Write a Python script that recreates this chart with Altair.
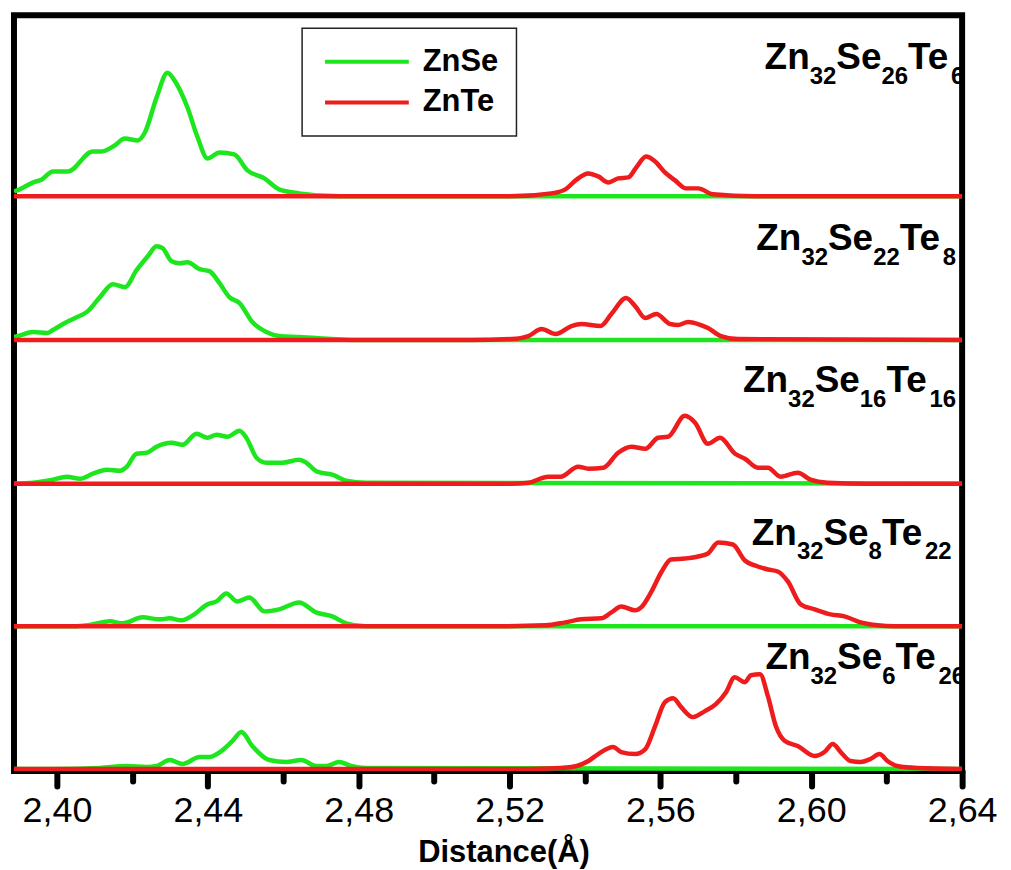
import altair as alt
import pandas as pd

GREEN = "#1ee61e"
RED = "#ee1c1c"

series_names = ["ZnSe", "ZnTe"]
panel_ids = ["p1", "p2", "p3", "p4", "p5"]
# panel labels as (element, subscript) pairs
panel_label_parts = [
    [("Zn", "32"), ("Se", "26"), ("Te", "6")],
    [("Zn", "32"), ("Se", "22"), ("Te", "8")],
    [("Zn", "32"), ("Se", "16"), ("Te", "16")],
    [("Zn", "32"), ("Se", "8"), ("Te", "22")],
    [("Zn", "32"), ("Se", "6"), ("Te", "26")],
]
panel_offsets = [57.4, 43.0, 28.6, 14.3, 0.0]
label_baseline_y = [70.2, 52.0, 37.8, 22.5, 10.0]
label_right_x = [2.6406, 2.6384, 2.6384, 2.6372, 2.6408]
tick_values = [2.40, 2.42, 2.44, 2.46, 2.48, 2.50, 2.52, 2.54, 2.56, 2.58, 2.60, 2.62, 2.64]

# ---- Panel 1: Zn32Se26Te6 ----
p1_znse_x = [2.3886, 2.3894, 2.3937, 2.396, 2.3989, 2.4029, 2.4095, 2.4119, 2.4153, 2.418, 2.4214,
             2.4233, 2.4264, 2.4293, 2.4312, 2.4346, 2.4373, 2.4399, 2.4431, 2.447, 2.4505, 2.455,
             2.4589, 2.4642, 2.475, 2.64]
p1_znse_y = [0.5, 0.6, 1.4, 1.7, 2.5, 2.5, 4.5, 4.5, 5.1, 5.8, 5.6, 6.4, 9.9, 12.4, 11.6, 8.9, 5.9,
             3.8, 4.4, 4.2, 2.6, 1.8, 0.7, 0.3, 0.0, 0.0]
p1_znte_x = [2.3886, 2.52, 2.5311, 2.5348, 2.5375, 2.5409, 2.5435, 2.5462, 2.5488, 2.5515, 2.5536,
             2.5562, 2.5586, 2.5612, 2.5639, 2.5668, 2.57, 2.5739, 2.585, 2.64]
p1_znte_y = [0.0, 0.0, 0.3, 0.7, 1.6, 2.3, 2.0, 1.4, 1.8, 1.9, 2.9, 4.0, 3.5, 2.4, 1.6, 0.8, 0.8,
             0.2, 0.0, 0.0]

# ---- Panel 2: Zn32Se22Te8 ----
p2_znse_x = [2.3886, 2.3897, 2.3937, 2.3974, 2.3989, 2.4021, 2.4048, 2.4082, 2.4114, 2.4148, 2.418,
             2.4211, 2.4241, 2.4264, 2.428, 2.4304, 2.4325, 2.4346, 2.4378, 2.4404, 2.4431, 2.4457,
             2.4484, 2.4518, 2.4555, 2.4589, 2.4642, 2.48, 2.64]
p2_znse_y = [0.3, 0.4, 0.8, 0.7, 1.0, 1.7, 2.2, 2.9, 4.3, 5.6, 5.3, 7.0, 8.4, 9.4, 9.2, 7.9, 7.7,
             7.8, 7.1, 6.9, 5.7, 4.3, 3.7, 1.8, 0.8, 0.4, 0.3, 0.0, 0.0]
p2_znte_x = [2.3886, 2.51, 2.5205, 2.525, 2.5285, 2.5322, 2.5364, 2.539, 2.5441, 2.547, 2.5509,
             2.5533, 2.556, 2.5589, 2.5626, 2.5647, 2.5673, 2.57, 2.5726, 2.576, 2.5805, 2.64]
p2_znte_y = [0.0, 0.0, 0.1, 0.4, 1.1, 0.6, 1.4, 1.6, 1.4, 2.6, 4.2, 3.4, 2.2, 2.6, 1.6, 1.5, 1.8,
             1.6, 1.2, 0.4, 0.1, 0.0]

# ---- Panel 3: Zn32Se16Te16 ----
p3_znse_x = [2.3886, 2.3937, 2.3989, 2.4026, 2.4061, 2.4095, 2.4132, 2.4167, 2.4185, 2.4211, 2.4238,
             2.4264, 2.4304, 2.4333, 2.437, 2.4399, 2.4423, 2.4452, 2.4484, 2.4502, 2.4529, 2.4555,
             2.4597, 2.4642, 2.4661, 2.469, 2.473, 2.4767, 2.4819, 2.64]
p3_znse_y = [0.0, 0.1, 0.4, 0.7, 0.5, 1.0, 1.4, 1.3, 1.7, 3.0, 3.1, 3.7, 4.1, 3.9, 5.0, 4.6, 4.9,
             4.7, 5.3, 4.6, 2.6, 2.1, 2.1, 2.4, 2.1, 1.2, 0.9, 0.3, 0.1, 0.0]
p3_znte_x = [2.3886, 2.51, 2.5205, 2.525, 2.5303, 2.5335, 2.5382, 2.5409, 2.5449, 2.5488, 2.5523,
             2.556, 2.5594, 2.562, 2.5665, 2.5692, 2.5726, 2.5758, 2.5798, 2.5824, 2.5858, 2.5885,
             2.5919, 2.5964, 2.5998, 2.6043, 2.615, 2.64]
p3_znte_y = [0.0, 0.0, 0.0, 0.1, 0.7, 0.7, 1.7, 1.5, 1.6, 3.1, 3.7, 3.5, 4.6, 4.7, 6.8, 6.1, 4.0,
             4.6, 3.0, 2.5, 1.6, 1.6, 0.7, 1.1, 0.4, 0.1, 0.0, 0.0]

# ---- Panel 4: Zn32Se8Te22 ----
p4_znse_x = [2.3886, 2.4042, 2.4095, 2.414, 2.4174, 2.4227, 2.4272, 2.4299, 2.433, 2.436, 2.4399,
             2.4423, 2.4449, 2.4478, 2.451, 2.455, 2.4589, 2.4642, 2.4687, 2.473, 2.4767, 2.4819, 2.64]
p4_znse_y = [0.0, 0.0, 0.2, 0.5, 0.3, 0.9, 0.7, 0.8, 0.6, 1.1, 2.2, 2.5, 3.3, 2.5, 2.9, 1.5, 1.7,
             2.4, 1.4, 1.0, 0.3, 0.0, 0.0]
p4_znte_x = [2.3886, 2.515, 2.5295, 2.5348, 2.539, 2.5443, 2.547, 2.5496, 2.5533, 2.5549, 2.5575,
             2.5602, 2.5628, 2.5665, 2.57, 2.5726, 2.5753, 2.5792, 2.5824, 2.5858, 2.5885, 2.5911,
             2.5938, 2.5972, 2.6009, 2.6051, 2.6088, 2.6131, 2.6176, 2.622, 2.64]
p4_znte_y = [0.0, 0.0, 0.1, 0.4, 0.7, 0.8, 1.4, 2.0, 1.6, 1.9, 3.4, 5.4, 6.7, 6.8, 7.0, 7.3, 8.4,
             8.2, 6.6, 6.0, 5.7, 5.5, 4.5, 2.2, 1.7, 1.2, 1.0, 0.4, 0.1, 0.0, 0.0]

# ---- Panel 5: Zn32Se6Te26 ----
p5_znse_x = [2.3886, 2.40, 2.4114, 2.4185, 2.4238, 2.4264, 2.4299, 2.4333, 2.4378, 2.4404, 2.4436,
             2.4465, 2.4489, 2.4518, 2.4563, 2.4608, 2.4648, 2.4687, 2.4714, 2.4748, 2.478, 2.4819, 2.64]
p5_znse_y = [0.0, 0.0, 0.1, 0.3, 0.2, 0.3, 0.9, 0.5, 1.2, 1.2, 1.8, 2.8, 3.7, 2.3, 0.9, 0.7, 0.9,
             0.3, 0.3, 0.7, 0.3, 0.1, 0.0]
p5_znte_x = [2.3886, 2.52, 2.53, 2.5364, 2.5409, 2.5435, 2.5475, 2.5496, 2.5533, 2.556, 2.5586,
             2.5612, 2.5634, 2.5655, 2.5686, 2.5718, 2.5747, 2.5774, 2.5797, 2.5824, 2.584, 2.5864,
             2.5885, 2.5906, 2.593, 2.5964, 2.6009, 2.6035, 2.6057, 2.6078, 2.6104, 2.6131, 2.6157,
             2.6181, 2.6202, 2.6228, 2.6281, 2.64]
p5_znte_y = [0.0, 0.0, 0.05, 0.2, 0.8, 1.5, 2.2, 1.7, 1.5, 2.0, 4.3, 6.7, 7.1, 6.2, 5.2, 5.8, 6.5,
             7.7, 9.2, 8.7, 9.4, 9.5, 7.3, 4.3, 2.8, 2.3, 1.3, 1.7, 2.5, 1.7, 0.8, 0.7, 1.0, 1.5,
             0.8, 0.3, 0.1, 0.0]

curves = [
    ("p1", "ZnSe", p1_znse_x, p1_znse_y), ("p1", "ZnTe", p1_znte_x, p1_znte_y),
    ("p2", "ZnSe", p2_znse_x, p2_znse_y), ("p2", "ZnTe", p2_znte_x, p2_znte_y),
    ("p3", "ZnSe", p3_znse_x, p3_znse_y), ("p3", "ZnTe", p3_znte_x, p3_znte_y),
    ("p4", "ZnSe", p4_znse_x, p4_znse_y), ("p4", "ZnTe", p4_znte_x, p4_znte_y),
    ("p5", "ZnSe", p5_znse_x, p5_znse_y), ("p5", "ZnTe", p5_znte_x, p5_znte_y),
]
offset_of = dict(zip(panel_ids, panel_offsets))

rows = []
for pid, ser, xs, ys in curves:
    for i, (xv, yv) in enumerate(zip(xs, ys)):
        rows.append({"panel": pid, "series": ser, "order": i, "x": xv, "h": yv,
                     "offset": offset_of[pid]})
df = pd.DataFrame(rows)

# ---- chart geometry ----
FONT = "Liberation Sans"
W, H = 951, 758
X_DOMAIN = [2.3886, 2.64]
Y_DOMAIN = [-0.2, 75.55]
MAIN_FS, SUB_FS = 37, 24
SUB_DROP_PX = 15

# Liberation Sans Bold advance widths (metric-compatible with Arial Bold), per 1000 em
ADV = {"Z": 611, "n": 611, "S": 667, "e": 556, "T": 611}
ADV.update({d: 556 for d in "0123456789"})


def text_w(s, fs):
    return sum(ADV[c] for c in s) / 1000.0 * fs


px_per_x = W / (X_DOMAIN[1] - X_DOMAIN[0])
px_per_y = H / (Y_DOMAIN[1] - Y_DOMAIN[0])

piece_rows = []
for parts, xr, yb in zip(panel_label_parts, label_right_x, label_baseline_y):
    total = sum(text_w(el, MAIN_FS) + text_w(sub, SUB_FS) for el, sub in parts)
    cur = xr - total / px_per_x
    for el, sub in parts:
        piece_rows.append({"t": el, "kind": "main", "x": cur, "y": yb})
        cur += text_w(el, MAIN_FS) / px_per_x
        piece_rows.append({"t": sub, "kind": "sub", "x": cur, "y": yb - SUB_DROP_PX / px_per_y})
        cur += text_w(sub, SUB_FS) / px_per_x
pieces = pd.DataFrame(piece_rows)

xscale = alt.Scale(domain=X_DOMAIN, nice=False, zero=False)
yscale = alt.Scale(domain=Y_DOMAIN, nice=False, zero=False)

major_test = "round(datum.value*100) % 4 == 0"
xaxis = alt.Axis(
    values=tick_values,
    labelExpr=f"{major_test} ? replace(format(datum.value, '.2f'), '.', ',') : ''",
    tickSize={"condition": {"test": major_test, "value": 15}, "value": 10},
    tickWidth=6, tickColor="black", tickCap="round",
    domain=False, grid=False,
    labelFont=FONT, labelFontSize=36, labelColor="black", labelPadding=8,
    labelFlush=False, labelOverlap=False, labelBound=False,
    title="Distance(Å)", titleFont=FONT, titleFontSize=31, titleFontWeight="bold",
    titleColor="black", titleBaseline="alphabetic", titleY=91, titleX=491, titleAlign="center",
)

color = alt.Color(
    "series:N",
    scale=alt.Scale(domain=series_names, range=[GREEN, RED]),
    legend=alt.Legend(
        title=None, orient="none", legendX=289, legendY=13,
        symbolType="M-1,0L7,0", symbolSize=441, symbolStrokeWidth=4,
        labelFont=FONT, labelFontSize=31, labelFontWeight="bold", labelColor="black",
        labelOffset=72, fillColor="white", strokeColor="#222222", padding=18, rowPadding=9,
    ),
)

base = alt.Chart(df).transform_calculate(y="datum.h + datum.offset")


def curve_layer(name):
    return base.transform_filter(f"datum.series == '{name}'").mark_line(
        strokeWidth=4.5, interpolate="monotone", clip=True
    ).encode(
        x=alt.X("x:Q", scale=xscale, axis=xaxis),
        y=alt.Y("y:Q", scale=yscale, axis=None),
        color=color, detail="panel:N", order="order:Q",
    )


green = curve_layer("ZnSe")
red = curve_layer("ZnTe")

main_text = alt.Chart(pieces).transform_filter("datum.kind == 'main'").mark_text(
    align="left", baseline="alphabetic", font=FONT, fontSize=MAIN_FS, fontWeight="bold",
    color="black",
).encode(x=alt.X("x:Q", scale=xscale), y=alt.Y("y:Q", scale=yscale), text="t:N")

sub_text = alt.Chart(pieces).transform_filter("datum.kind == 'sub'").mark_text(
    align="left", baseline="alphabetic", font=FONT, fontSize=SUB_FS, fontWeight="bold",
    color="black",
).encode(x=alt.X("x:Q", scale=xscale), y=alt.Y("y:Q", scale=yscale), text="t:N")

chart = alt.layer(green, red, main_text, sub_text).properties(
    width=W, height=H,
    padding={"left": 6, "top": 6, "right": 5, "bottom": 0},
    background="white",
).configure_view(stroke="black", strokeWidth=6).configure_legend(strokeWidth=1.5)

chart.save("out.html", embed_options={"renderer": "svg", "actions": False})
